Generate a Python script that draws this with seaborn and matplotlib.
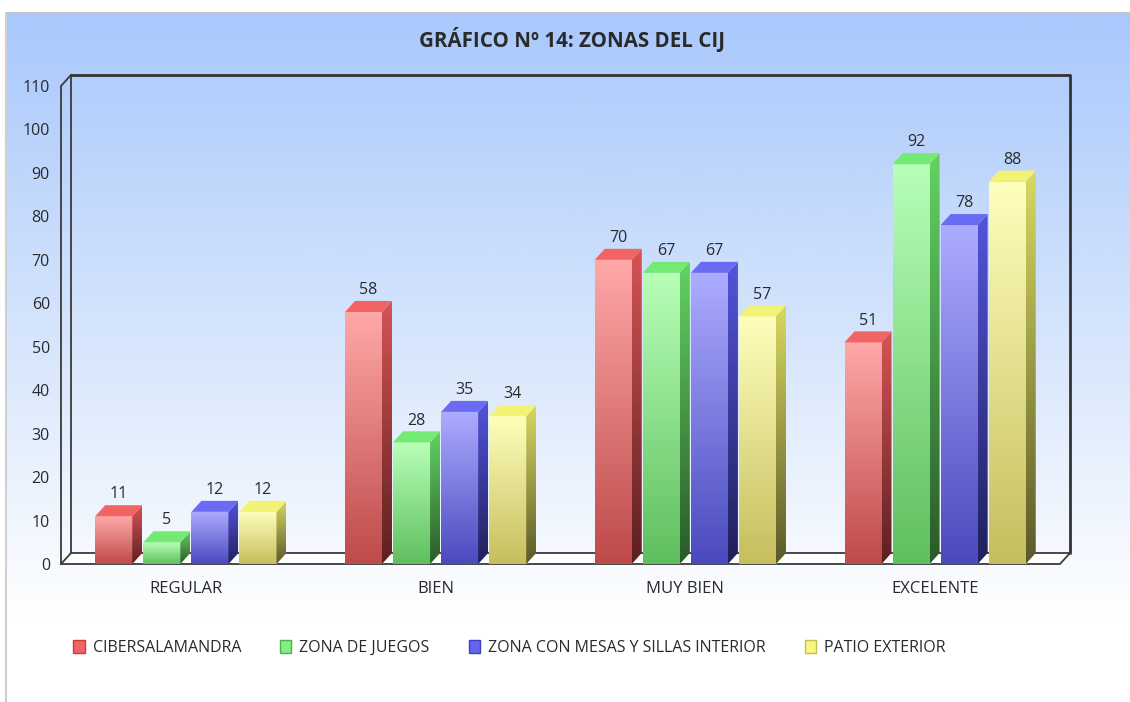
import numpy as np
import pandas as pd
import matplotlib.pyplot as plt
import seaborn as sns
from matplotlib.patches import Polygon, Patch
from matplotlib.colors import LinearSegmentedColormap

# ---------------------------------------------------
# Datos
# ---------------------------------------------------
categorias = ["REGULAR", "BIEN", "MUY BIEN", "EXCELENTE"]
zonas = ["CIBERSALAMANDRA", "ZONA DE JUEGOS",
         "ZONA CON MESAS Y SILLAS INTERIOR", "PATIO EXTERIOR"]
cibersalamandra = [11, 58, 70, 51]
zona_juegos = [5, 28, 67, 92]
zona_mesas = [12, 35, 67, 78]
patio_exterior = [12, 34, 57, 88]
y_ticks = list(range(0, 111, 10))
titulo = "GRÁFICO Nº 14: ZONAS DEL CIJ"

df = pd.DataFrame({
    "categoria": categorias * 4,
    "zona": np.repeat(zonas, len(categorias)),
    "valor": cibersalamandra + zona_juegos + zona_mesas + patio_exterior,
})

# colores: frente arriba, frente abajo, lado arriba, lado abajo, tapa, leyenda, borde leyenda
colores = {
    "CIBERSALAMANDRA": ("#ffa8a8", "#bf4a4a", "#d65454", "#5c2020", "#f26464", "#f26464", "#c04040"),
    "ZONA DE JUEGOS": ("#b8ffb8", "#5fbf5f", "#62d262", "#2a5a2a", "#74ea74", "#80f080", "#50b050"),
    "ZONA CON MESAS Y SILLAS INTERIOR": ("#acacff", "#4a4abf", "#5454dc", "#20205a", "#6a6af2", "#6464f0", "#4040c0"),
    "PATIO EXTERIOR": ("#ffffbc", "#c6be5e", "#d8d862", "#5a5a28", "#f2f274", "#f8f880", "#c0c050"),
}
texto = "#2a2a2a"

sns.set_style("white")
plt.rcParams["font.family"] = ["Open Sans", "DejaVu Sans"]

fig = plt.figure(figsize=(11.3, 7.02), dpi=100)

# ---------------------------------------------------
# Fondo degradado del panel
# ---------------------------------------------------
bg = fig.add_axes([6 / 1130, 0, 1 - 6 / 1130, 689 / 702], zorder=-2)
bg_cmap = LinearSegmentedColormap.from_list(
    "bg", [(0, "#a9c8fc"), (0.45, "#d4e4fc"), (0.88, "#ffffff"), (1, "#ffffff")])
bg.imshow(np.linspace(0, 1, 256).reshape(-1, 1), aspect="auto", cmap=bg_cmap,
          extent=[0, 1, 1, 0])
bg.set_axis_off()
fig.add_artist(plt.Line2D([6 / 1130, 1], [689 / 702, 689 / 702], color="#c4c4c4", lw=1.5))
fig.add_artist(plt.Line2D([6 / 1130, 6 / 1130], [0, 689 / 702], color="#d0d0d0", lw=1.5))

# ---------------------------------------------------
# Barras
# ---------------------------------------------------
ax = fig.add_axes([61 / 1130, 138 / 702, 999 / 1130, 478 / 702])
ax.patch.set_alpha(0)

sns.barplot(data=df, x="categoria", y="valor", hue="zona", order=categorias,
            hue_order=zonas, width=0.77, gap=0.23, legend=False,
            palette=[colores[z][0] for z in zonas], ax=ax)

xmin, xmax = -0.5, len(categorias) - 0.5
ymax = 110
dx = 10 / 250
dy = 11 * ymax / 478

for zona, cont in zip(zonas, ax.containers):
    ft, fb, st, sb, tp = colores[zona][:5]
    cmap_f = LinearSegmentedColormap.from_list("f", [fb, ft])
    cmap_s = LinearSegmentedColormap.from_list("s", [sb, st])
    for bar in cont:
        x0, w, h = bar.get_x(), bar.get_width(), bar.get_height()
        bar.set_facecolor("none")
        bar.set_edgecolor("none")
        grad = np.linspace(1, 0, 128).reshape(-1, 1)
        # frente
        im = ax.imshow(grad, aspect="auto", cmap=cmap_f, zorder=3,
                       extent=[x0, x0 + w, 0, h])
        im.set_clip_path(bar)
        # lado
        lado = Polygon([(x0 + w, 0), (x0 + w + dx, dy), (x0 + w + dx, h + dy), (x0 + w, h)],
                       closed=True, facecolor="none", edgecolor="none")
        ax.add_patch(lado)
        im = ax.imshow(grad, aspect="auto", cmap=cmap_s, zorder=3,
                       extent=[x0 + w, x0 + w + dx, 0, h + dy])
        im.set_clip_path(lado)
        # tapa
        ax.add_patch(Polygon([(x0, h), (x0 + dx, h + dy), (x0 + w + dx, h + dy), (x0 + w, h)],
                             closed=True, facecolor=tp, edgecolor="none", zorder=3))
        ax.annotate(f"{h:.0f}", (x0 + (w + dx) / 2, h + dy), xytext=(0, 2),
                    textcoords="offset points", ha="center", va="bottom",
                    fontsize=11.5, color=texto, zorder=4)

# ---------------------------------------------------
# Marco 3D
# ---------------------------------------------------
kw = dict(color="#3a3a3a", lw=1.3, clip_on=False, zorder=2, solid_capstyle="projecting")
ax.add_patch(Polygon([(xmin, 0), (xmin + dx, dy), (xmax + dx, dy), (xmax, 0)],
                     closed=True, facecolor="white", edgecolor="none", zorder=1, clip_on=False))
ax.plot([xmin + dx, xmax + dx, xmax + dx], [ymax + dy, ymax + dy, dy], color="#333333",
        lw=2.0, clip_on=False, zorder=2)
ax.plot([xmin + dx, xmin + dx, xmax + dx], [ymax + dy, dy, dy], **kw)
ax.plot([xmin + dx, xmin, xmin, xmax, xmax + dx], [ymax + dy, ymax, 0, 0, dy], **kw)
ax.plot([xmin, xmin + dx], [0, dy], **kw)

ax.set_xlim(xmin, xmax)
ax.set_ylim(0, ymax)
ax.set_yticks(y_ticks)
ax.set_xlabel("")
ax.set_ylabel("")
sns.despine(ax=ax, left=True, bottom=True)
ax.tick_params(axis="x", length=0, pad=12, labelsize=12, labelcolor=texto)
ax.tick_params(axis="y", length=0, pad=8, labelsize=11.5, labelcolor=texto)

# ---------------------------------------------------
# Título y leyenda
# ---------------------------------------------------
fig.text(572 / 1130, 1 - 40 / 702, titulo, ha="center", va="center",
         fontsize=14.8, fontweight="bold", color=texto)

handles = [Patch(facecolor=colores[z][5], edgecolor=colores[z][6], label=z) for z in zonas]
fig.legend(handles=handles, loc="center left", bbox_to_anchor=(59 / 1130, 1 - 648 / 702),
           ncol=4, frameon=False, fontsize=11.5, handlelength=0.7, handleheight=0.8,
           handletextpad=0.5, columnspacing=2.45, labelcolor=texto)

fig.savefig("out.png", dpi=100)
